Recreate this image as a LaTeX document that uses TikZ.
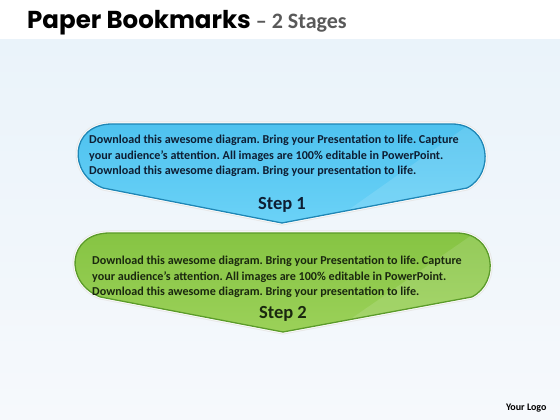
\documentclass[tikz,border=0pt]{standalone}
\usepackage{fontspec}
\setmainfont{Carlito}
\newfontfamily\titlefont{Poppins}
\definecolor{bgtop}{HTML}{EAF3FA}
\definecolor{bgbottom}{HTML}{F6F9FC}
\definecolor{titlegray}{HTML}{595959}
\definecolor{skytop}{HTML}{4EC2EF}
\definecolor{skybottom}{HTML}{6BD2F7}
\definecolor{skyedge}{HTML}{1F86B5}
\definecolor{leaftop}{HTML}{86C443}
\definecolor{leafbottom}{HTML}{9BD159}
\definecolor{leafedge}{HTML}{5B9B2A}
\definecolor{inktext}{HTML}{0E1E33}
\definecolor{leaftext}{HTML}{1A280F}

% one bookmark shape, origin at the middle of its top edge
\newcommand\drawmark[5]{%
  \begin{scope}[shift={#1}, xscale=#5]
    \draw[line width=5pt, black!9] (-170,0) -- (170,0) .. controls (209,0) and (213,-50) .. (185,-64) -- (0,-99) -- (-179,-64) .. controls (-215,-50) and (-212,0) .. (-170,0) -- cycle;
    \draw[line width=3pt, white] (-170,0) -- (170,0) .. controls (209,0) and (213,-50) .. (185,-64) -- (0,-99) -- (-179,-64) .. controls (-215,-50) and (-212,0) .. (-170,0) -- cycle;
    \shade[top color=#2, bottom color=#3] (-170,0) -- (170,0) .. controls (209,0) and (213,-50) .. (185,-64) -- (0,-99) -- (-179,-64) .. controls (-215,-50) and (-212,0) .. (-170,0) -- cycle;
    \begin{scope}
      \clip (-170,0) -- (170,0) .. controls (209,0) and (213,-50) .. (185,-64) -- (0,-99) -- (-179,-64) .. controls (-215,-50) and (-212,0) .. (-170,0) -- cycle;
      \fill[white, opacity=.12] (48,-99) -- (188,0) -- (230,0) -- (230,-99) -- cycle;
    \end{scope}
    \draw[#4, line width=1.3pt] (-170,0) -- (170,0) .. controls (209,0) and (213,-50) .. (185,-64) -- (0,-99) -- (-179,-64) .. controls (-215,-50) and (-212,0) .. (-170,0) -- cycle;
  \end{scope}}

\begin{document}
\frenchspacing
\begin{tikzpicture}[x=1pt, y=1pt,
    bodytext/.style={anchor=west, align=left, inner sep=0pt, font=\bfseries\fontsize{12.1}{15.3}\selectfont},
    steptext/.style={font=\bfseries\fontsize{18.5}{20}\selectfont}]
  \useasboundingbox (0,0) rectangle (560,420);
  \fill[white] (0,0) rectangle (560,420);
  \shade[top color=bgtop, bottom color=bgbottom] (0,0) rectangle (560,380);

  \node[anchor=base west, inner sep=0pt] (title) at (27,391)
    {{\titlefont\bfseries\fontsize{24.5}{26}\selectfont Paper Bookmarks}\hspace{5pt}{\color{titlegray}\bfseries\fontsize{22}{24}\selectfont – 2 Stages}};

  \drawmark{(282,296)}{skytop}{skybottom}{skyedge}{1}
  \drawmark{(283,187)}{leaftop}{leafbottom}{leafedge}{1.02}

  \node[bodytext, text=inktext] (text1) at (89,264)
    {Download this awesome diagram. Bring your Presentation to life. Capture\\
     your audience’s attention. All images are 100\% editable in PowerPoint.\\
     Download this awesome diagram. Bring your presentation to life.};
  \node[steptext, text=inktext] (step1) at (282,215) {Step 1};

  \node[bodytext, text=leaftext] (text2) at (92,143)
    {Download this awesome diagram. Bring your Presentation to life. Capture\\
     your audience’s attention. All images are 100\% editable in PowerPoint.\\
     Download this awesome diagram. Bring your presentation to life.};
  \node[steptext, text=leaftext] (step2) at (283,106) {Step 2};

  \node[anchor=east, font=\bfseries\fontsize{10}{11}\selectfont] (logo) at (550,12) {Your Logo};
\end{tikzpicture}
\end{document}
